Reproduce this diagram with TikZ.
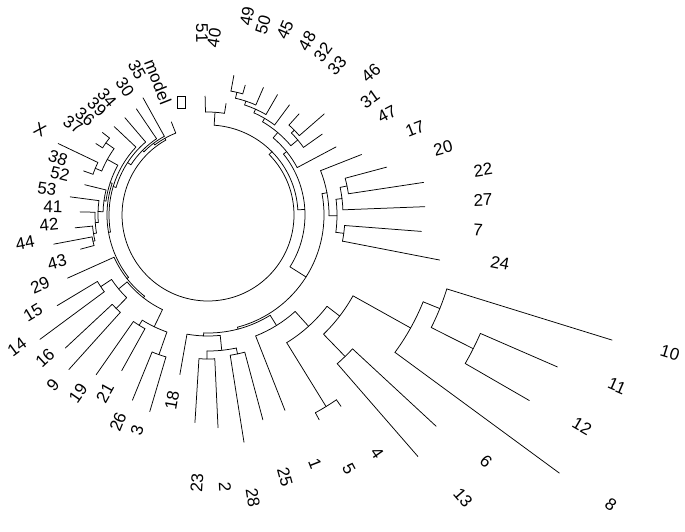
\documentclass[tikz,border=0pt]{standalone}
\usepackage{fontspec}
\setmainfont{Liberation Sans}
\newcommand{\rl}[3]{\draw[br] (#1:#2) -- (#1:#3);}
\newcommand{\ac}[3]{\draw[br] (#2:#1) arc[start angle=#2, end angle=#3, radius=#1];}
\begin{document}
\begin{tikzpicture}[x=1pt,y=-1pt,
  br/.style={line width=0.75pt, black, line cap=round},
  lab/.style={inner sep=0pt, font=\fontsize{17}{17}\selectfont}]
\useasboundingbox (0,0) rectangle (685,532);
\begin{scope}[shift={(208,215)}]
% ---- backbone ----
\ac{86}{-44.7}{240.65}
\ac{90}{-86.1}{-3.3} \rl{-44.7}{86}{90}
\ac{97}{-38.9}{32.3} \rl{-3.3}{90}{97}
\ac{116}{-10.6}{75.25} \rl{32.3}{97}{116}
\ac{118}{58.2}{92.1} \rl{75.25}{116}{118}
\ac{121}{84.2}{100} \rl{92.1}{118}{121}
\ac{88}{232.8}{248.5} \rl{240.65}{86}{88}
\ac{90}{224.6}{241} \rl{232.8}{88}{90}
\ac{92}{213.1}{236} \rl{224.6}{90}{92}
\ac{96}{196.7}{229.5} \rl{213.1}{92}{96}
\ac{99}{170.1}{223.3} \rl{196.7}{96}{99}
\ac{101}{141.9}{198.3} \rl{170.1}{99}{101}
\ac{103}{128}{155.8} \rl{141.9}{101}{103}
\ac{105}{115.7}{140.4} \rl{128}{103}{105}
% ---- C1 ----
\ac{103}{-91.4}{-80.8} \rl{-86.1}{90}{103}
% ---- C2 ----
\ac{126}{-79.5}{-74} \rl{-76.75}{120}{126}
\ac{120}{-76.75}{-66.5} \rl{-71.6}{116}{120}
\ac{116}{-71.6}{-60} \rl{-65.8}{112}{116}
\ac{112}{-65.8}{-53.5} \rl{-59.65}{108}{112}
\ac{121}{-48}{-41} \rl{-44.5}{117}{121}
\ac{117}{-44.5}{-35.3} \rl{-39.9}{108}{117}
\ac{108}{-59.65}{-39.9} \rl{-49.8}{101}{108}
\ac{101}{-49.8}{-28} \rl{-38.9}{97}{101}
% ---- C3 ----
\ac{142}{-15}{-8.6} \rl{-11.8}{135}{142}
\ac{135}{-11.8}{-2.2} \rl{-7}{129}{135}
\ac{137}{4.4}{11} \rl{7.7}{129}{137}
\ac{129}{-7}{7.7} \rl{0.35}{121}{129}
\ac{121}{-21.5}{0.35} \rl{-10.6}{116}{121}
% ---- C4 ----
\ac{297}{23.5}{30} \rl{26.75}{250}{297}
\ac{250}{17.2}{26.75} \rl{21.98}{232}{250}
\ac{232}{21.98}{36.3} \rl{29.14}{166}{232}
\ac{197}{42.8}{49} \rl{45.9}{166}{197}
\ac{166}{29.14}{45.9} \rl{37.5}{150}{166}
\ac{225}{55.2}{61.5} \rl{58.35}{150}{225}
\ac{150}{37.5}{58.35} \rl{47.9}{130}{150}
\ac{130}{47.9}{68.5} \rl{58.2}{118}{130}
% ---- C5 ----
\ac{142}{75}{81} \rl{78}{136}{142}
\ac{144}{87.3}{93.6} \rl{90.45}{136}{144}
\ac{136}{78}{90.45} \rl{84.2}{121}{136}
% ---- C6, C7 ----
\ac{148}{106.5}{112.2} \rl{109.35}{124}{148}
\ac{130}{119}{125} \rl{122}{124}{130}
\ac{124}{109.35}{122} \rl{115.7}{105}{124}
\ac{131}{132}{137} \rl{134.5}{116}{131}
\ac{129}{143.5}{149} \rl{146.25}{116}{129}
\ac{116}{134.5}{146.25} \rl{140.4}{105}{116}
% ---- C8 ----
\ac{103}{187.8}{208.9} \rl{198.3}{101}{103}
\ac{105}{181.8}{193.8} \rl{187.8}{103}{105}
\ac{110}{176.1}{187.5} \rl{181.8}{105}{110}
\ac{113}{170.8}{181.4} \rl{176.1}{110}{113}
\ac{116}{167.15}{174.5} \rl{170.8}{113}{116}
\ac{118}{165}{169.3} \rl{167.15}{116}{118}
\ac{115}{202.5}{215.25} \rl{208.9}{103}{115}
\ac{122}{199.5}{205.5} \rl{202.5}{115}{122}
\ac{125}{212.5}{218} \rl{215.25}{115}{125}
% ---- tips ----
\rl{-91.4}{103}{119} \rl{-80.8}{103}{113} \rl{-79.5}{126}{142}
\rl{-74}{126}{135} \rl{-66.5}{120}{139} \rl{-60}{116}{139}
\rl{-53.5}{112}{137} \rl{-48}{121}{136} \rl{-41}{121}{154}
\rl{-35.3}{117}{140} \rl{-28}{101}{145} \rl{-21.5}{121}{165}
\rl{-15}{142}{185} \rl{-8.6}{142}{218} \rl{-2.2}{135}{217}
\rl{4.4}{137}{214} \rl{11}{137}{236} \rl{17.2}{250}{423}
\rl{23.5}{297}{381} \rl{30}{297}{371} \rl{36.3}{232}{436}
\rl{42.8}{197}{311} \rl{49}{197}{320} \rl{55.2}{225}{233}
\rl{61.5}{225}{233} \rl{68.5}{130}{210} \rl{75}{142}{212}
\rl{81}{142}{230} \rl{87.3}{144}{213} \rl{93.6}{144}{208}
\rl{100}{121}{162} \rl{106.5}{148}{205} \rl{112.2}{148}{200}
\rl{119}{130}{178} \rl{125}{130}{195} \rl{132}{131}{208}
\rl{137}{131}{195} \rl{143.5}{129}{209} \rl{149}{129}{176}
\rl{155.8}{103}{154} \rl{165}{118}{132} \rl{169.3}{118}{157}
\rl{174.5}{116}{133.5} \rl{181.4}{113}{128} \rl{187.5}{110}{139}
\rl{193.8}{105}{127} \rl{199.5}{122}{132} \rl{205.5}{122}{166}
\rl{212.5}{125}{133} \rl{218}{125}{134} \rl{223.3}{99}{129}
\rl{229.5}{96}{128} \rl{236}{92}{128} \rl{241}{90}{134}
\rl{248.5}{88}{100}
\end{scope}
% ---- labels ----
\node[lab,rotate=-88.6] (l51) at (202,33) {51};
\node[lab,rotate=80.8] (l40) at (214,38) {40};
\node[lab,rotate=79.5] (l49) at (247,16) {49};
\node[lab,rotate=74] (l50) at (263,25) {50};
\node[lab,rotate=66.5] (l45) at (285,30) {45};
\node[lab,rotate=60] (l48) at (307,41) {48};
\node[lab,rotate=53.5] (l32) at (323,52) {32};
\node[lab,rotate=48] (l33) at (337,66) {33};
\node[lab,rotate=41] (l46) at (371,73) {46};
\node[lab,rotate=35.3] (l31) at (370,99) {31};
\node[lab,rotate=28] (l47) at (387,114) {47};
\node[lab,rotate=21.5] (l17) at (415,129) {17};
\node[lab,rotate=15] (l20) at (443,148) {20};
\node[lab,rotate=8.6] (l22) at (483,170) {22};
\node[lab,rotate=2.2] (l27) at (483,200) {27};
\node[lab,rotate=-4.4] (l7) at (478,230) {7};
\node[lab,rotate=-11] (l24) at (500,263) {24};
\node[lab,rotate=-17.2] (l10) at (670,353) {10};
\node[lab,rotate=-23.5] (l11) at (617,386) {11};
\node[lab,rotate=-30] (l12) at (582,426) {12};
\node[lab,rotate=-36.3] (l8) at (611,505) {8};
\node[lab,rotate=-42.8] (l6) at (486,461) {6};
\node[lab,rotate=-49] (l13) at (463,498) {13};
\node[lab,rotate=-55.2] (l4) at (377,453) {4};
\node[lab,rotate=-61.5] (l5) at (349,469) {5};
\node[lab,rotate=-68.5] (l1) at (315,464) {1};
\node[lab,rotate=-75] (l25) at (285,477) {25};
\node[lab,rotate=-81] (l28) at (253,498) {28};
\node[lab,rotate=-87.3] (l2) at (225,487) {2};
\node[lab,rotate=86.4] (l23) at (197,483) {23};
\node[lab,rotate=80] (l18) at (172,400) {18};
\node[lab,rotate=73.5] (l3) at (137,430) {3};
\node[lab,rotate=67.8] (l26) at (118,422) {26};
\node[lab,rotate=61] (l21) at (105,393) {21};
\node[lab,rotate=55] (l19) at (78,393) {19};
\node[lab,rotate=48] (l9) at (53,385) {9};
\node[lab,rotate=43] (l16) at (45,358) {16};
\node[lab,rotate=36.5] (l14) at (17,347) {14};
\node[lab,rotate=31] (l15) at (33,313) {15};
\node[lab,rotate=24.2] (l29) at (40,285) {29};
\node[lab,rotate=15] (l43) at (57,262) {43};
\node[lab,rotate=10.7] (l44) at (25,243) {44};
\node[lab,rotate=5.5] (l42) at (49,225) {42};
\node[lab,rotate=-1.4] (l41) at (53,207) {41};
\node[lab,rotate=-7.5] (l53) at (47,189) {53};
\node[lab,rotate=-13.8] (l52) at (60,174) {52};
\node[lab,rotate=-19.5] (l38) at (58,158) {38};
\node[lab,rotate=-25.5] (lX) at (40,130) {X};
\node[lab,rotate=-32.5] (l37) at (73,125) {37};
\node[lab,rotate=-38] (l36) at (85,117) {36};
\node[lab,rotate=-43.3] (l39) at (97,107) {39};
\node[lab,rotate=-49.5] (l34) at (107,98) {34};
\node[lab,rotate=-56] (l30) at (125,87) {30};
\node[lab,rotate=-61] (l35) at (137,70) {35};
\node[lab,rotate=-68.5] (lmodel) at (158,82) {model};
\node[draw, line width=0.75pt, minimum width=8pt, minimum height=12pt, inner sep=0pt] (mbox) at (181,102) {};
\end{tikzpicture}
\end{document}
